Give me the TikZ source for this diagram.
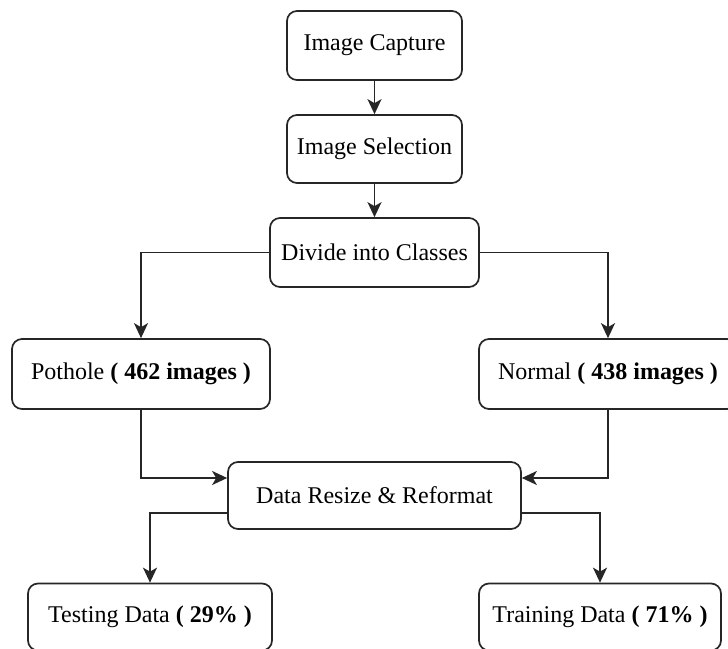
\documentclass[tikz,border=0pt]{standalone}
\usepackage{fontspec}
\setmainfont{Liberation Serif}
\usetikzlibrary{arrows.meta,calc}
\begin{document}
\begin{tikzpicture}[x=1pt,y=-1pt,
  box/.style={draw=black!85, line width=1.7pt, rounded corners=10pt, fill=white,
    inner sep=0pt, align=center, font=\fontsize{24}{28}\selectfont},
  conn/.style={draw=black!85, line width=1.7pt,
    -{Stealth[length=15pt,width=14pt,inset=4pt]}}
]
\useasboundingbox (0,0) rectangle (728,648);
\fill[white] (0,0) rectangle (728,648);

\node[box, minimum width=175pt, minimum height=69pt] (cap) at (374.5,45.5) {Image Capture};
\node[box, minimum width=175pt, minimum height=68pt] (sel) at (374.5,149) {Image Selection};
\node[box, minimum width=209pt, minimum height=69pt] (div) at (374.5,252.5) {Divide into Classes};
\node[box, minimum width=258pt, minimum height=70pt] (pot) at (141,374) {Pothole \textbf{( 462 images )}};
\node[box, minimum width=258pt, minimum height=70pt] (nor) at (608,374) {Normal \textbf{( 438 images )}};
\node[box, minimum width=293pt, minimum height=67pt] (res) at (374.5,495.5) {Data Resize \& Reformat};
\node[box, minimum width=244pt, minimum height=67pt] (test) at (150,617) {Testing Data \textbf{( 29\% )}};
\node[box, minimum width=242pt, minimum height=67pt] (train) at (600,617) {Training Data \textbf{( 71\% )}};

\draw[conn] (cap) -- (sel);
\draw[conn] (sel) -- (div);
\draw[conn] (div.west) -| (pot.north);
\draw[conn] (div.east) -| (nor.north);
\draw[conn] (pot.south) |- ([yshift=17.5pt]res.west);
\draw[conn] (nor.south) |- ([yshift=17.5pt]res.east);
\draw[conn] ([yshift=-17.5pt]res.west) -| (test.north);
\draw[conn] ([yshift=-17.5pt]res.east) -| (train.north);
\end{tikzpicture}
\end{document}
